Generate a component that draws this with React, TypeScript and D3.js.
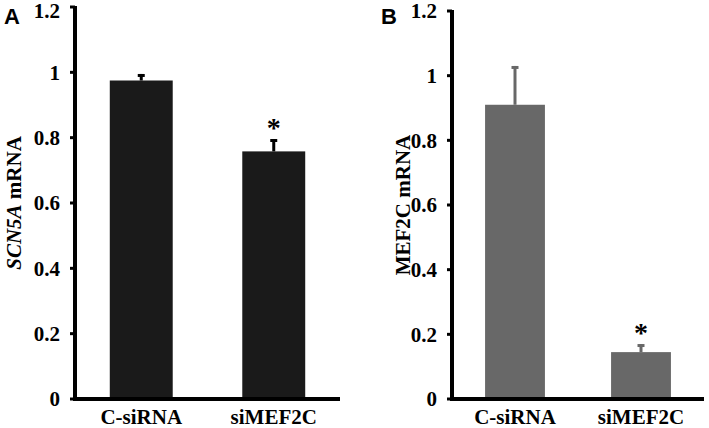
import React from 'react'
import * as d3 from 'd3'

const categories = ['C-siRNA', 'siMEF2C']
const scn5aValues = [0.975, 0.758]
const scn5aErrors = [0.02, 0.038]
const mef2cValues = [0.91, 0.145]
const mef2cErrors = [0.12, 0.025]
const significant = [false, true]
const yTicks = [0, 0.2, 0.4, 0.6, 0.8, 1, 1.2]

const W = 709
const H = 428
const serif = 'Liberation Serif, DejaVu Serif, serif'
const sans = 'Liberation Sans, Arial, sans-serif'

type PanelProps = {
  letter: string
  letterX: number
  titleX: number
  title: React.ReactNode
  left: number
  right: number
  top: number
  values: number[]
  errors: number[]
  color: string
  errColor: string
}

function Panel(p: PanelProps) {
  const bottom = 399
  const y = d3.scaleLinear().domain([0, 1.2]).range([bottom, p.top])
  const x = d3.scalePoint<string>().domain(categories).range([p.left, p.right]).padding(0.5)
  const barW = x.step() * 0.475
  const fmt = (d: number) => (d === 0 || d === 1 ? String(d) : d.toFixed(1))
  const serifStyle = { fontFamily: serif, fontWeight: 700 }

  return (
    <g>
      <text x={p.letterX} y={24} style={{ fontFamily: sans, fontWeight: 700 }} fontSize={22}>{p.letter}</text>
      <text
        transform={`translate(${p.titleX}, ${(p.top + bottom) / 2}) rotate(-90)`}
        textAnchor="middle"
        style={serifStyle}
        fontSize={21}
        dy="0.35em"
      >{p.title}</text>

      {categories.map((c, i) => {
        const cx = x(c) as number
        const v = p.values[i]
        const e = p.errors[i]
        return (
          <g key={c}>
            <rect x={cx - barW / 2} y={y(v)} width={barW} height={bottom - y(v)} fill={p.color} />
            <line x1={cx} x2={cx} y1={y(v)} y2={y(v + e)} stroke={p.errColor} strokeWidth={3} />
            <line x1={cx - 3.5} x2={cx + 3.5} y1={y(v + e) + 1.5} y2={y(v + e) + 1.5} stroke={p.errColor} strokeWidth={3} />
            {significant[i] && (
              <text x={cx} y={y(v + e) - 2} textAnchor="middle" style={serifStyle} fontSize={28}>*</text>
            )}
            <text x={cx} y={bottom + 25} textAnchor="middle" style={serifStyle} fontSize={21}>{c}</text>
          </g>
        )
      })}

      {yTicks.map(t => (
        <g key={t}>
          <line x1={p.left - 5} x2={p.left} y1={y(t)} y2={y(t)} stroke="#000" strokeWidth={3} />
          <text x={p.left - 15} y={Math.max(y(t), 11)} dy="0.35em" textAnchor="end" style={serifStyle} fontSize={21}>{fmt(t)}</text>
        </g>
      ))}
      <line x1={p.left} x2={p.left} y1={p.top - 1} y2={bottom + 2} stroke="#000" strokeWidth={4} />
      <line x1={p.left - 2} x2={p.right} y1={bottom} y2={bottom} stroke="#000" strokeWidth={4} />
    </g>
  )
}

export default function App() {
  return (
    <svg width={W} height={H} style={{ position: 'absolute', left: 0, top: 0, background: '#fff' }}>
      <Panel
        letter="A"
        letterX={4}
        titleX={14}
        title={<><tspan fontStyle="italic">SCN5A</tspan> mRNA</>}
        left={75}
        right={340}
        top={7}
        values={scn5aValues}
        errors={scn5aErrors}
        color="#1a1a1a"
        errColor="#000"
      />
      <Panel
        letter="B"
        letterX={381}
        titleX={403}
        title="MEF2C mRNA"
        left={452}
        right={704}
        top={11}
        values={mef2cValues}
        errors={mef2cErrors}
        color="#686868"
        errColor="#686868"
      />
    </svg>
  )
}
